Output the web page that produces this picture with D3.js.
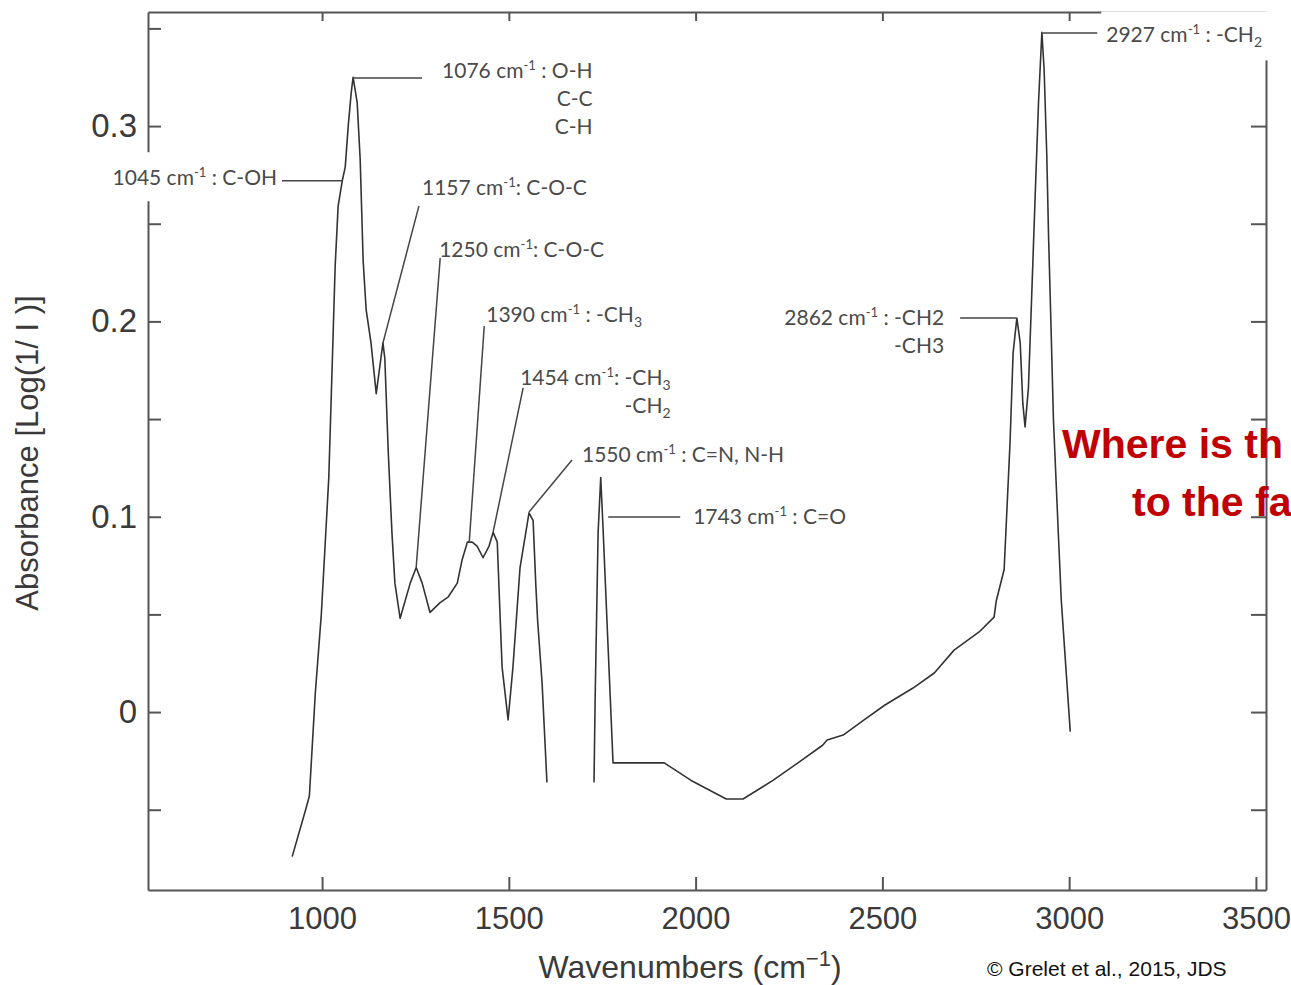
<!DOCTYPE html>
<html>
<head>
<meta charset="utf-8">
<script src="https://cdn.jsdelivr.net/npm/d3@7"></script>
<style>
    body { margin: 0; background: #fff; }
    svg text { font-family: "Liberation Sans", Arial, sans-serif; }
    .note { font-family: Lato, "Open Sans", sans-serif; font-size: 21px; fill: #4a4a4a; }
</style>
</head>
<body>
<div id="chart-container"></div>
<script>
// spectrum, first part (before the gap)
const wavenumbersA = [920, 956, 966, 982, 998, 1018, 1030, 1035, 1043, 1054, 1062, 1070, 1078, 1083, 1094, 1102, 1110, 1118, 1131, 1145, 1163, 1168, 1177, 1187, 1195, 1209, 1236, 1252, 1268, 1289, 1316, 1338, 1362, 1375, 1389, 1402, 1415, 1431, 1447, 1458, 1469, 1477, 1482, 1498, 1511, 1530, 1554, 1565, 1572, 1577, 1589, 1602];
const absorbanceA = [-0.074, -0.050, -0.043, 0.010, 0.050, 0.120, 0.196, 0.228, 0.259, 0.272, 0.279, 0.300, 0.317, 0.325, 0.312, 0.283, 0.231, 0.206, 0.189, 0.163, 0.189, 0.181, 0.134, 0.092, 0.066, 0.048, 0.066, 0.074, 0.066, 0.051, 0.056, 0.059, 0.066, 0.078, 0.087, 0.087, 0.085, 0.079, 0.085, 0.092, 0.087, 0.047, 0.023, -0.004, 0.023, 0.074, 0.102, 0.098, 0.066, 0.047, 0.015, -0.036];

// spectrum, second part
const wavenumbersB = [1728, 1731, 1739, 1746, 1752, 1766, 1779, 1916, 1988, 2082, 2127, 2207, 2274, 2340, 2352, 2395, 2451, 2507, 2582, 2639, 2692, 2759, 2799, 2805, 2826, 2842, 2850, 2860, 2869, 2876, 2882, 2891, 2900, 2909, 2918, 2927, 2933, 2940, 2945, 2951, 2958, 2971, 2979, 3003];
const absorbanceB = [-0.036, 0.006, 0.092, 0.120, 0.095, 0.032, -0.026, -0.026, -0.035, -0.0445, -0.0445, -0.035, -0.026, -0.017, -0.0143, -0.0118, -0.004, 0.0036, 0.0123, 0.020, 0.0317, 0.041, 0.0486, 0.057, 0.073, 0.139, 0.184, 0.2017, 0.189, 0.158, 0.146, 0.166, 0.2145, 0.264, 0.312, 0.348, 0.329, 0.286, 0.243, 0.2007, 0.1495, 0.0917, 0.057, -0.010];

const xTicks = [1000, 1500, 2000, 2500, 3000, 3500];
const yTicks = [-0.05, 0, 0.05, 0.1, 0.15, 0.2, 0.25, 0.3, 0.35];

// where each leader line touches the spectrum
const peakWavenumbers = [1056, 1083, 1163, 1252, 1394, 1458, 1554, 1766, 2858, 2928];
const peakAbsorbance = [0.272, 0.3246, 0.189, 0.0742, 0.087, 0.0922, 0.1024, 0.0998, 0.2017, 0.3477];
const peakLabels = [
    ["1045 cm^-1 : C-OH"],
    ["1076 cm^-1 : O-H", "C-C", "C-H"],
    ["1157 cm^-1: C-O-C"],
    ["1250 cm^-1: C-O-C"],
    ["1390 cm^-1 : -CH_3"],
    ["1454 cm^-1: -CH_3", "-CH_2"],
    ["1550 cm^-1 : C=N, N-H"],
    ["1743 cm^-1 : C=O"],
    ["2862 cm^-1 : -CH2", "-CH3"],
    ["2927 cm^-1 : -CH_2"]
];

// label placement, offsets in px from the peak point
const labelLayout = [
    { lead: [-61, 0], text: [-66, 4], anchor: "end", box: true },
    { lead: [69, 0], text: [89, 0] },
    { lead: [36, -137], text: [39, -148] },
    { lead: [24, -309], text: [23, -310] },
    { lead: [15, -216], text: [17, -220] },
    { lead: [30, -144], text: [27, -147] },
    { lead: [43, -52], text: [53, -50] },
    { lead: [72, 0], text: [85, 7] },
    { lead: [-56, 0], text: [-72, 7], anchor: "end" },
    { lead: [55, 0], text: [64, 9], box: true }
];

const svgWidth = 1291;
const svgHeight = 985;
const margin = { top: 12, right: 25, bottom: 95, left: 148 };

const svg = d3.select("#chart-container")
    .append("svg")
    .attr("width", svgWidth)
    .attr("height", svgHeight);

const xScale = d3.scaleLinear()
    .domain([534, 3527])
    .range([margin.left, svgWidth - margin.right]);

const yScale = d3.scaleLinear()
    .domain([-0.0911, 0.3584])
    .range([svgHeight - margin.bottom, margin.top]);

const axisColor = "#555";

const xAxis = svg.append("g")
    .attr("transform", `translate(0, ${svgHeight - margin.bottom})`)
    .call(d3.axisBottom(xScale).tickValues(xTicks).tickSize(-13).tickSizeOuter(0).tickPadding(17).tickFormat(d3.format("d")));

svg.append("g")
    .attr("transform", `translate(0, ${margin.top})`)
    .call(d3.axisTop(xScale).tickValues(xTicks).tickSize(-9).tickSizeOuter(0).tickFormat(""));

const yAxis = svg.append("g")
    .attr("transform", `translate(${margin.left}, 0)`)
    .call(d3.axisLeft(yScale).tickValues(yTicks).tickSize(-13).tickSizeOuter(0).tickPadding(11)
        .tickFormat(d => Math.round(d * 100) % 10 === 0 ? String(+d.toFixed(1)) : ""));

svg.append("g")
    .attr("transform", `translate(${svgWidth - margin.right}, 0)`)
    .call(d3.axisRight(yScale).tickValues(yTicks).tickSize(-15).tickSizeOuter(0).tickFormat(""));

svg.selectAll(".domain, .tick line")
    .attr("stroke", axisColor)
    .attr("stroke-width", 2);

svg.selectAll(".tick text")
    .attr("font-size", 31)
    .attr("fill", "#3a3a3a")
    .attr("font-family", "Liberation Sans, Arial, sans-serif");

yAxis.selectAll(".tick text").attr("font-size", 33);

// axis titles
const xTitle = svg.append("text")
    .attr("x", 690)
    .attr("y", 978)
    .attr("text-anchor", "middle")
    .attr("font-size", 32)
    .attr("fill", "#3a3a3a")
    .text("Wavenumbers (cm");
xTitle.append("tspan").attr("dy", -12).attr("font-size", 22).text("\u22121");
xTitle.append("tspan").attr("dy", 12).text(")");

svg.append("text")
    .attr("transform", "rotate(-90)")
    .attr("x", -453)
    .attr("y", 38)
    .attr("text-anchor", "middle")
    .attr("font-size", 31)
    .attr("fill", "#3a3a3a")
    .text("Absorbance [Log(1/ I )]");

// the spectrum, drawn in two pieces
const line = d3.line()
    .x(d => xScale(d[0]))
    .y(d => yScale(d[1]));

[[wavenumbersA, absorbanceA], [wavenumbersB, absorbanceB]].forEach(([w, a]) => {
    svg.append("path")
        .datum(d3.zip(w, a))
        .attr("fill", "none")
        .attr("stroke", "#333")
        .attr("stroke-width", 1.6)
        .attr("stroke-linejoin", "round")
        .attr("d", line);
});

// text with cm^-1 superscripts and _3 subscripts
function addRich(textSel, str) {
    const parts = str.split(/(\^-1|_\d)/).filter(s => s !== "");
    let shift = 0;
    parts.forEach(p => {
        if (p.startsWith("^")) {
            textSel.append("tspan").attr("dy", -8 + shift).attr("font-size", 13).text(p.slice(1));
            shift = 8;
        } else if (p.startsWith("_")) {
            textSel.append("tspan").attr("dy", 5 + shift).attr("font-size", 14).text(p.slice(1));
            shift = -5;
        } else {
            textSel.append("tspan").attr("dy", shift).text(p);
            shift = 0;
        }
    });
}

peakLabels.forEach((lines, i) => {
    const px = xScale(peakWavenumbers[i]);
    const py = yScale(peakAbsorbance[i]);
    const lay = labelLayout[i];
    const g = svg.append("g");

    const first = g.append("text")
        .attr("class", "note")
        .attr("x", px + lay.text[0])
        .attr("y", py + lay.text[1])
        .attr("text-anchor", lay.anchor || "start");
    addRich(first, lines[0]);

    const bb = first.node().getBBox();
    lines.slice(1).forEach((t, j) => {
        const extra = g.append("text")
            .attr("class", "note")
            .attr("x", bb.x + bb.width)
            .attr("y", py + lay.text[1] + 28 * (j + 1))
            .attr("text-anchor", "end");
        addRich(extra, t);
    });

    if (lay.box) {
        g.insert("rect", "text")
            .attr("x", bb.x - 5)
            .attr("y", bb.y + bb.height / 2 - 24)
            .attr("width", bb.width + 16)
            .attr("height", 49)
            .attr("fill", "white");
    }

    svg.append("line")
        .attr("x1", px + lay.lead[0])
        .attr("y1", py + lay.lead[1])
        .attr("x2", px)
        .attr("y2", py)
        .attr("stroke", "#444")
        .attr("stroke-width", 1.5);
});

// red question overlaid on the slide
const question = svg.append("g")
    .attr("font-family", "Lato, 'Open Sans', sans-serif")
    .attr("font-weight", "bold")
    .attr("font-size", 41)
    .attr("fill", "#c00000");
question.append("text").attr("x", 1062).attr("y", 458).text("Where is th");
question.append("text").attr("x", 1132).attr("y", 516).text("to the fa");

svg.append("text")
    .attr("x", 987)
    .attr("y", 976)
    .attr("font-family", "Lato, 'Open Sans', sans-serif")
    .attr("font-size", 21)
    .attr("fill", "#111")
    .text("\u00a9 Grelet et al., 2015, JDS");
</script>
</body>
</html>
